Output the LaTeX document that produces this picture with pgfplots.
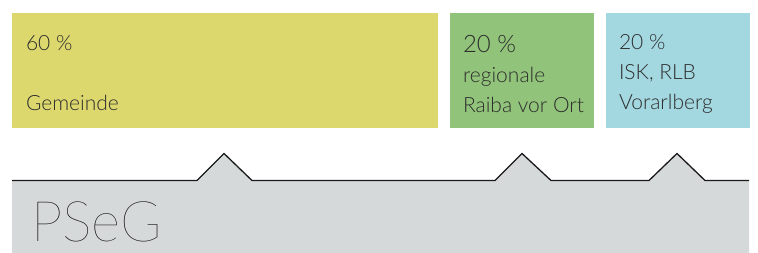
\documentclass[border=0pt]{standalone}
\usepackage{pgfplots}
\pgfplotsset{compat=1.18}
\usepackage{fontspec}
\setmainfont{Liberation Sans}
\newfontfamily\lightfont{Lato Light}
\newfontfamily\thinfont{Lato Thin}
\definecolor{cyel}{RGB}{221,216,110}
\definecolor{cgrn}{RGB}{145,196,122}
\definecolor{cblu}{RGB}{164,216,225}
\definecolor{cgry}{RGB}{214,217,218}
\definecolor{ctxt}{RGB}{45,45,45}
\tikzset{lbl/.style={anchor=base west,inner sep=0pt,outer sep=0pt,text=ctxt,font=\lightfont\fontsize{21}{24}\selectfont}}
\begin{document}
\begin{tikzpicture}
\begin{axis}[width=758pt,height=253pt,scale only axis,
  xmin=0,xmax=758,ymin=0,ymax=253,y dir=reverse,
  axis line style={draw=none},xtick=\empty,ytick=\empty,clip=false]
% three shares: 60 %, 20 %, 20 %
\addplot[fill=cyel,draw=none] coordinates {(12,13)(438,13)(438,128)(12,128)};
\addplot[fill=cgrn,draw=none] coordinates {(450,13)(594,13)(594,128)(450,128)};
\addplot[fill=cblu,draw=none] coordinates {(606,13)(750,13)(750,128)(606,128)};
% base
\addplot[fill=cgry,draw=none] coordinates {(12,180.5)(197,180.5)(224,153.5)(252,180.5)(495,180.5)(522,153.5)(551,180.5)(649,180.5)(677,153.5)(705,180.5)(749,180.5)(749,253)(12,253)};
\addplot[color=black!90,line width=1.3pt,line join=miter] coordinates {(12,180.5)(197,180.5)(224,153.5)(252,180.5)(495,180.5)(522,153.5)(551,180.5)(649,180.5)(677,153.5)(705,180.5)(749,180.5)};
% labels
\node[lbl] at (axis cs:26,50.7) {60 \%};
\node[lbl] at (axis cs:26,111) {Gemeinde};
\node[lbl,font=\lightfont\fontsize{24}{27}\selectfont] at (axis cs:463,52.7) {20 \%};
\node[lbl] at (axis cs:463,82.7) {regionale};
\node[lbl] at (axis cs:463,112.7) {Raiba vor Ort};
\node[lbl] at (axis cs:619,50) {20 \%};
\node[lbl] at (axis cs:619,80) {ISK, RLB};
\node[lbl] at (axis cs:619,110) {Vorarlberg};
\node[lbl,font=\thinfont\fontsize{56}{60}\selectfont,text=black] at (axis cs:31,242) {PSeG};
\end{axis}
\end{tikzpicture}
\end{document}
